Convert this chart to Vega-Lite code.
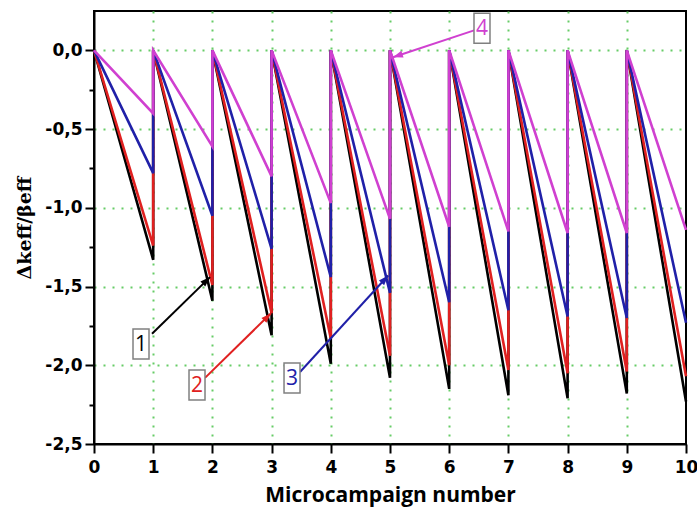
{
  "$schema": "https://vega.github.io/schema/vega-lite/v6.json",
  "width": 592,
  "height": 433,
  "autosize": {"type": "none"},
  "padding": {"left": 94, "top": 11, "right": 11, "bottom": 63},
  "background": "white",
  "config": {
    "view": {"stroke": "black", "strokeWidth": 2},
    "axis": {
      "domainColor": "black",
      "domainWidth": 2,
      "tickColor": "black",
      "tickWidth": 2,
      "labelFont": "DejaVu Sans",
      "labelFontWeight": "bold",
      "labelFontSize": 17,
      "labelColor": "black",
      "gridColor": "#66cc66",
      "gridDash": [2, 7],
      "gridWidth": 2,
      "titleColor": "black"
    }
  },
  "datasets": {
    "lines": [
      {"s": "1", "i": 0, "x": 0, "y": 0},
      {"s": "1", "i": 1, "x": 1, "y": -1.33},
      {"s": "1", "i": 2, "x": 1, "y": 0},
      {"s": "1", "i": 3, "x": 2, "y": -1.59},
      {"s": "1", "i": 4, "x": 2, "y": 0},
      {"s": "1", "i": 5, "x": 3, "y": -1.81},
      {"s": "1", "i": 6, "x": 3, "y": 0},
      {"s": "1", "i": 7, "x": 4, "y": -1.99},
      {"s": "1", "i": 8, "x": 4, "y": 0},
      {"s": "1", "i": 9, "x": 5, "y": -2.08},
      {"s": "1", "i": 10, "x": 5, "y": 0},
      {"s": "1", "i": 11, "x": 6, "y": -2.15},
      {"s": "1", "i": 12, "x": 6, "y": 0},
      {"s": "1", "i": 13, "x": 7, "y": -2.19},
      {"s": "1", "i": 14, "x": 7, "y": 0},
      {"s": "1", "i": 15, "x": 8, "y": -2.21},
      {"s": "1", "i": 16, "x": 8, "y": 0},
      {"s": "1", "i": 17, "x": 9, "y": -2.18},
      {"s": "1", "i": 18, "x": 9, "y": 0},
      {"s": "1", "i": 19, "x": 10, "y": -2.23},

      {"s": "2", "i": 0, "x": 0, "y": 0},
      {"s": "2", "i": 1, "x": 1, "y": -1.24},
      {"s": "2", "i": 2, "x": 1, "y": 0},
      {"s": "2", "i": 3, "x": 2, "y": -1.49},
      {"s": "2", "i": 4, "x": 2, "y": 0},
      {"s": "2", "i": 5, "x": 3, "y": -1.67},
      {"s": "2", "i": 6, "x": 3, "y": 0},
      {"s": "2", "i": 7, "x": 4, "y": -1.83},
      {"s": "2", "i": 8, "x": 4, "y": 0},
      {"s": "2", "i": 9, "x": 5, "y": -1.94},
      {"s": "2", "i": 10, "x": 5, "y": 0},
      {"s": "2", "i": 11, "x": 6, "y": -2.0},
      {"s": "2", "i": 12, "x": 6, "y": 0},
      {"s": "2", "i": 13, "x": 7, "y": -2.03},
      {"s": "2", "i": 14, "x": 7, "y": 0},
      {"s": "2", "i": 15, "x": 8, "y": -2.05},
      {"s": "2", "i": 16, "x": 8, "y": 0},
      {"s": "2", "i": 17, "x": 9, "y": -2.04},
      {"s": "2", "i": 18, "x": 9, "y": 0},
      {"s": "2", "i": 19, "x": 10, "y": -2.07},

      {"s": "3", "i": 0, "x": 0, "y": 0},
      {"s": "3", "i": 1, "x": 1, "y": -0.78},
      {"s": "3", "i": 2, "x": 1, "y": 0},
      {"s": "3", "i": 3, "x": 2, "y": -1.05},
      {"s": "3", "i": 4, "x": 2, "y": 0},
      {"s": "3", "i": 5, "x": 3, "y": -1.26},
      {"s": "3", "i": 6, "x": 3, "y": 0},
      {"s": "3", "i": 7, "x": 4, "y": -1.44},
      {"s": "3", "i": 8, "x": 4, "y": 0},
      {"s": "3", "i": 9, "x": 5, "y": -1.54},
      {"s": "3", "i": 10, "x": 5, "y": 0},
      {"s": "3", "i": 11, "x": 6, "y": -1.6},
      {"s": "3", "i": 12, "x": 6, "y": 0},
      {"s": "3", "i": 13, "x": 7, "y": -1.65},
      {"s": "3", "i": 14, "x": 7, "y": 0},
      {"s": "3", "i": 15, "x": 8, "y": -1.69},
      {"s": "3", "i": 16, "x": 8, "y": 0},
      {"s": "3", "i": 17, "x": 9, "y": -1.7},
      {"s": "3", "i": 18, "x": 9, "y": 0},
      {"s": "3", "i": 19, "x": 10, "y": -1.73},

      {"s": "4", "i": 0, "x": 0, "y": 0},
      {"s": "4", "i": 1, "x": 1, "y": -0.4},
      {"s": "4", "i": 2, "x": 1, "y": 0},
      {"s": "4", "i": 3, "x": 2, "y": -0.61},
      {"s": "4", "i": 4, "x": 2, "y": 0},
      {"s": "4", "i": 5, "x": 3, "y": -0.8},
      {"s": "4", "i": 6, "x": 3, "y": 0},
      {"s": "4", "i": 7, "x": 4, "y": -0.97},
      {"s": "4", "i": 8, "x": 4, "y": 0},
      {"s": "4", "i": 9, "x": 5, "y": -1.07},
      {"s": "4", "i": 10, "x": 5, "y": 0},
      {"s": "4", "i": 11, "x": 6, "y": -1.12},
      {"s": "4", "i": 12, "x": 6, "y": 0},
      {"s": "4", "i": 13, "x": 7, "y": -1.15},
      {"s": "4", "i": 14, "x": 7, "y": 0},
      {"s": "4", "i": 15, "x": 8, "y": -1.16},
      {"s": "4", "i": 16, "x": 8, "y": 0},
      {"s": "4", "i": 17, "x": 9, "y": -1.16},
      {"s": "4", "i": 18, "x": 9, "y": 0},
      {"s": "4", "i": 19, "x": 10, "y": -1.14}
    ],
    "notes": [
      {"s": "1", "lab": "1", "bx": 0.794, "by": -1.865, "sx": 0.98, "sy": -1.8, "tx": 1.96, "ty": -1.44, "ang": 46},
      {"s": "2", "lab": "2", "bx": 1.74, "by": -2.126, "sx": 1.875, "sy": -2.08, "tx": 2.99, "ty": -1.67, "ang": 45},
      {"s": "3", "lab": "3", "bx": 3.345, "by": -2.081, "sx": 3.48, "sy": -2.043, "tx": 4.97, "ty": -1.43, "ang": 42},
      {"s": "4", "lab": "4", "bx": 6.554, "by": 0.14, "sx": 6.42, "sy": 0.127, "tx": 5.05, "ty": -0.044, "ang": 251.6}
    ]
  },
  "layer": [
    {
      "data": {"name": "lines"},
      "mark": {"type": "line", "strokeWidth": 2.6},
      "encoding": {
        "x": {
          "field": "x", "type": "quantitative",
          "scale": {"domain": [0, 10], "nice": false},
          "axis": {
            "values": [0, 0.5, 1, 1.5, 2, 2.5, 3, 3.5, 4, 4.5, 5, 5.5, 6, 6.5, 7, 7.5, 8, 8.5, 9, 9.5, 10],
            "labelExpr": "datum.value % 1 === 0 ? format(datum.value, 'd') : ''",
            "tickSize": {"condition": {"test": "datum.value % 1 !== 0", "value": 5}, "value": 9},
            "gridOpacity": {"condition": {"test": "datum.value % 1 !== 0 || datum.value === 0 || datum.value === 10", "value": 0}, "value": 1},
            "labelPadding": 6,
            "labelFlush": false,
            "labelOverlap": false,
            "title": "Microcampaign number",
            "titleFont": "Open Sans",
            "titleFontSize": 21,
            "titleFontWeight": "bold",
            "titlePadding": 9
          }
        },
        "y": {
          "field": "y", "type": "quantitative",
          "scale": {"domain": [-2.5, 0.25], "nice": false, "zero": false},
          "axis": {
            "values": [-2.5, -2.25, -2, -1.75, -1.5, -1.25, -1, -0.75, -0.5, -0.25, 0],
            "labelExpr": "abs(datum.value * 4) % 2 === 1 ? '' : replace(replace(format(datum.value, '.1f'), '.', ','), '\u2212', '-')",
            "tickSize": {"condition": {"test": "abs(datum.value * 4) % 2 === 1", "value": 5}, "value": 9},
            "gridOpacity": {"condition": {"test": "abs(datum.value * 4) % 2 === 1 || datum.value === -2.5", "value": 0}, "value": 1},
            "labelPadding": 3,
            "labelFlush": false,
            "labelOverlap": false,
            "title": "\u0394keff/\u03b2eff",
            "titleFont": "DejaVu Serif",
            "titleFontSize": 19,
            "titleFontWeight": "bold",
            "titlePadding": 10
          }
        },
        "color": {
          "field": "s", "type": "nominal",
          "scale": {"domain": ["1", "2", "3", "4"], "range": ["#000000", "#e02020", "#2020a8", "#d040d0"]},
          "legend": null
        },
        "order": {"field": "i", "type": "quantitative"}
      }
    },
    {
      "data": {"name": "notes"},
      "mark": {"type": "rule", "strokeWidth": 2},
      "encoding": {
        "x": {"field": "sx", "type": "quantitative"},
        "y": {"field": "sy", "type": "quantitative"},
        "x2": {"field": "tx"},
        "y2": {"field": "ty"},
        "color": {"field": "s", "type": "nominal", "legend": null}
      }
    },
    {
      "data": {"name": "notes"},
      "mark": {"type": "point", "shape": "M0,0L-0.35,1L0.35,1Z", "filled": true, "opacity": 1, "size": 400},
      "encoding": {
        "x": {"field": "tx", "type": "quantitative"},
        "y": {"field": "ty", "type": "quantitative"},
        "angle": {"field": "ang", "type": "quantitative", "scale": null},
        "color": {"field": "s", "type": "nominal", "legend": null}
      }
    },
    {
      "data": {"name": "notes"},
      "mark": {"type": "point", "shape": "M-1,-1.875L1,-1.875L1,1.875L-1,1.875Z", "filled": false, "fill": "white", "fillOpacity": 1, "stroke": "#808080", "strokeWidth": 1.5, "opacity": 1, "size": 256},
      "encoding": {
        "x": {"field": "bx", "type": "quantitative"},
        "y": {"field": "by", "type": "quantitative"}
      }
    },
    {
      "data": {"name": "notes"},
      "mark": {"type": "text", "font": "Open Sans", "fontSize": 21, "baseline": "middle", "align": "center", "dy": 1},
      "encoding": {
        "x": {"field": "bx", "type": "quantitative"},
        "y": {"field": "by", "type": "quantitative"},
        "text": {"field": "lab"},
        "color": {"field": "s", "type": "nominal", "legend": null}
      }
    }
  ]
}
